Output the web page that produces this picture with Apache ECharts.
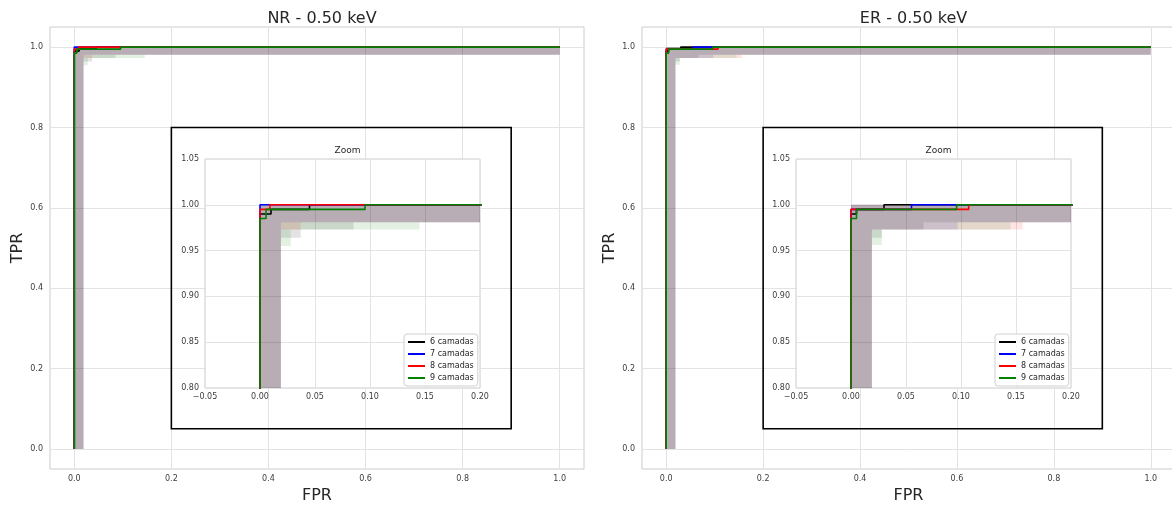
<!DOCTYPE html>
<html>
<head>
<meta charset="utf-8">
<script src="https://cdn.jsdelivr.net/npm/echarts@6/dist/echarts.min.js"></script>
<style>
  html, body { margin: 0; padding: 0; background: #ffffff; }
  #chart { width: 1172px; height: 505px; }
</style>
</head>
<body>
<div id="chart"></div>
<script>
// Mean ROC curves per network depth, given as (FPR, TPR) vertices
const seriesNames = ['6 camadas', '7 camadas', '8 camadas', '9 camadas'];

const nrFpr6 = [0, 0, 0.010, 0.010, 0.045, 0.045, 1];
const nrTpr6 = [0, 0.990, 0.990, 0.995, 0.995, 1, 1];
const nrFpr7 = [0, 0, 1];
const nrTpr7 = [0, 1, 1];
const nrFpr8 = [0, 0, 0.009, 0.009, 1];
const nrTpr8 = [0, 0.995, 0.995, 1, 1];
const nrFpr9 = [0, 0, 0.0055, 0.0055, 0.0955, 0.0955, 1];
const nrTpr9 = [0, 0.985, 0.985, 0.995, 0.995, 1, 1];

const erFpr6 = [0, 0, 0.005, 0.005, 0.030, 0.030, 1];
const erTpr6 = [0, 0.990, 0.990, 0.995, 0.995, 1, 1];
const erFpr7 = [0, 0, 0.055, 0.055, 1];
const erTpr7 = [0, 0.995, 0.995, 1, 1];
const erFpr8 = [0, 0, 0.107, 0.107, 1];
const erTpr8 = [0, 0.995, 0.995, 1, 1];
const erFpr9 = [0, 0, 0.005, 0.005, 0.096, 0.096, 1];
const erTpr9 = [0, 0.985, 0.985, 0.995, 0.995, 1, 1];

// Uncertainty bands: lower TPR bound as a step function over FPR segments
const bandUpper = 1.0;
const nrBandEdges6 = [0, 0.019, 0.037, 0.085, 1];
const nrBandLow6   = [0, 0.964, 0.973, 0.981];
const nrBandEdges7 = [0, 0.019, 1];
const nrBandLow7   = [0, 0.981];
const nrBandEdges8 = [0, 0.019, 0.037, 1];
const nrBandLow8   = [0, 0.973, 0.981];
const nrBandEdges9 = [0, 0.019, 0.028, 0.145, 1];
const nrBandLow9   = [0, 0.955, 0.973, 0.981];

const erBandEdges6 = [0, 0.019, 0.028, 0.066, 1];
const erBandLow6   = [0, 0.964, 0.973, 0.981];
const erBandEdges7 = [0, 0.019, 0.097, 1];
const erBandLow7   = [0, 0.973, 0.981];
const erBandEdges8 = [0, 0.019, 0.156, 1];
const erBandLow8   = [0, 0.973, 0.981];
const erBandEdges9 = [0, 0.019, 0.028, 0.145, 1];
const erBandLow9   = [0, 0.956, 0.973, 0.981];

// Zoom window outline on the main axes: [x0, y0, x1, y1]
const zoomFrame = [0.2, 0.05, 0.9, 0.8];

// Tick values
const mainTicks = [0, 0.2, 0.4, 0.6, 0.8, 1.0];

const panels = [
  {
    title: 'NR - 0.50 keV',
    fpr: [nrFpr6, nrFpr7, nrFpr8, nrFpr9],
    tpr: [nrTpr6, nrTpr7, nrTpr8, nrTpr9],
    edges: [nrBandEdges6, nrBandEdges7, nrBandEdges8, nrBandEdges9],
    low: [nrBandLow6, nrBandLow7, nrBandLow8, nrBandLow9]
  },
  {
    title: 'ER - 0.50 keV',
    fpr: [erFpr6, erFpr7, erFpr8, erFpr9],
    tpr: [erTpr6, erTpr7, erTpr8, erTpr9],
    edges: [erBandEdges6, erBandEdges7, erBandEdges8, erBandEdges9],
    low: [erBandLow6, erBandLow7, erBandLow8, erBandLow9]
  }
];

const FONT = 'DejaVu Sans';
const lineColors = ['#000000', '#0000ff', '#ff0000', '#008000'];
const bandColors = ['rgba(0,0,0,0.11)', 'rgba(0,0,255,0.11)', 'rgba(255,0,0,0.11)', 'rgba(0,128,0,0.11)'];
const gridLineColor = '#e3e3e3';
const spineColor = '#cccccc';
const tickColor = '#3c3c3c';

const mainGrids = [
  { left: 50, top: 27, width: 534, height: 442 },
  { left: 642, top: 27, width: 533, height: 442 }
];
const insetGrids = [
  { left: 205, top: 159, width: 275, height: 229 },
  { left: 796, top: 159, width: 275, height: 229 }
];

const grid = [], xAxis = [], yAxis = [], series = [], title = [], legend = [];

function fmtSigned(v, d) {
  if (Math.abs(v) < 1e-9) v = 0;
  return (v < 0 ? '\u2212' : '') + Math.abs(v).toFixed(d);
}

function bandSeries(p, k, axisIdx, z) {
  const edges = p.edges[k], low = p.low[k];
  return {
    type: 'custom',
    name: 'band ' + seriesNames[k],
    xAxisIndex: axisIdx, yAxisIndex: axisIdx,
    z: z, clip: true, silent: true, animation: false,
    data: [[edges[0], bandUpper]],
    renderItem: function (params, api) {
      const pts = [api.coord([edges[0], bandUpper]), api.coord([edges[edges.length - 1], bandUpper])];
      for (let i = low.length - 1; i >= 0; i--) {
        pts.push(api.coord([edges[i + 1], low[i]]));
        pts.push(api.coord([edges[i], low[i]]));
      }
      return { type: 'polygon', shape: { points: pts }, style: { fill: bandColors[k] } };
    }
  };
}

function lineSeries(p, k, axisIdx, z) {
  return {
    type: 'line',
    name: seriesNames[k],
    xAxisIndex: axisIdx, yAxisIndex: axisIdx,
    z: z, clip: true, silent: true, animation: false,
    showSymbol: false, symbol: 'none',
    color: lineColors[k],
    lineStyle: { color: lineColors[k], width: 1.6 },
    data: p.fpr[k].map((x, i) => [x, p.tpr[k][i]])
  };
}

panels.forEach((p, pi) => {
  const mg = mainGrids[pi], ig = insetGrids[pi];
  const mi = pi;        // main axes index
  const ii = pi + 2;    // inset axes index

  grid[mi] = Object.assign({ show: true, backgroundColor: '#ffffff', borderColor: spineColor, borderWidth: 1, z: 0, outerBoundsMode: 'none', containLabel: false }, mg);
  grid[ii] = Object.assign({ show: true, backgroundColor: '#ffffff', borderColor: spineColor, borderWidth: 1, z: 3, outerBoundsMode: 'none', containLabel: false }, ig);

  xAxis[mi] = {
    type: 'value', gridIndex: mi, min: -0.05, max: 1.05, z: 0,
    name: 'FPR', nameLocation: 'middle', nameGap: 16,
    nameTextStyle: { fontFamily: FONT, fontSize: 16, color: '#262626' },
    axisLine: { show: false }, axisTick: { show: false, customValues: mainTicks },
    axisLabel: { customValues: mainTicks, formatter: v => fmtSigned(v, 1), fontFamily: FONT, fontSize: 8, color: tickColor, margin: 6 },
    splitLine: { show: true, lineStyle: { color: gridLineColor, width: 1 } }
  };
  yAxis[mi] = {
    type: 'value', gridIndex: mi, min: -0.05, max: 1.05, z: 0,
    name: 'TPR', nameLocation: 'middle', nameGap: 24, nameRotate: 90,
    nameTextStyle: { fontFamily: FONT, fontSize: 16, color: '#262626' },
    axisLine: { show: false }, axisTick: { show: false, customValues: mainTicks },
    axisLabel: { customValues: mainTicks, formatter: v => fmtSigned(v, 1), fontFamily: FONT, fontSize: 8, color: tickColor, margin: 7 },
    splitLine: { show: true, lineStyle: { color: gridLineColor, width: 1 } }
  };
  xAxis[ii] = {
    type: 'value', gridIndex: ii, min: -0.05, max: 0.20, interval: 0.05, z: 4,
    axisLine: { show: false }, axisTick: { show: false },
    axisLabel: { formatter: v => fmtSigned(v, 2), fontFamily: FONT, fontSize: 8, color: tickColor, margin: 5, showMinLabel: true, showMaxLabel: true },
    splitLine: { show: true, lineStyle: { color: gridLineColor, width: 1 } }
  };
  yAxis[ii] = {
    type: 'value', gridIndex: ii, min: 0.80, max: 1.05, interval: 0.05, z: 4,
    axisLine: { show: false }, axisTick: { show: false },
    axisLabel: { formatter: v => fmtSigned(v, 2), fontFamily: FONT, fontSize: 8, color: tickColor, margin: 6 },
    splitLine: { show: true, lineStyle: { color: gridLineColor, width: 1 } }
  };

  // main axes: bands, curves, zoom outline
  for (let k = 0; k < 4; k++) series.push(bandSeries(p, k, mi, 1));
  for (let k = 0; k < 4; k++) series.push(lineSeries(p, k, mi, 2));
  series.push({
    type: 'custom', xAxisIndex: mi, yAxisIndex: mi, z: 2, silent: true, animation: false, clip: false,
    data: [zoomFrame],
    renderItem: function (params, api) {
      const a = api.coord([api.value(0), api.value(3)]);
      const b = api.coord([api.value(2), api.value(1)]);
      return { type: 'rect', shape: { x: a[0], y: a[1], width: b[0] - a[0], height: b[1] - a[1] },
               style: { fill: null, stroke: '#000000', lineWidth: 1.6 } };
    }
  });
  // inset axes
  for (let k = 0; k < 4; k++) series.push(bandSeries(p, k, ii, 5));
  for (let k = 0; k < 4; k++) series.push(lineSeries(p, k, ii, 6));

  title.push({
    text: p.title, left: mg.left + mg.width / 2, top: 6, textAlign: 'center',
    textStyle: { fontFamily: FONT, fontSize: 16, fontWeight: 'normal', color: '#262626' }, z: 10
  });
  title.push({
    text: 'Zoom', left: ig.left + ig.width / 2, top: 141, textAlign: 'center',
    textStyle: { fontFamily: FONT, fontSize: 9, fontWeight: 'normal', color: '#262626' }, z: 10
  });

  legend.push({
    data: seriesNames.map((n, k) => ({ name: n, itemStyle: { color: lineColors[k] } })),
    orient: 'vertical', left: ig.left + ig.width - 76, top: ig.top + ig.height - 54,
    icon: 'rect', itemWidth: 17, itemHeight: 2, itemGap: 2,
    padding: [3, 4, 3, 4],
    backgroundColor: 'rgba(255,255,255,0.85)', borderColor: '#d0d0d0', borderWidth: 1, borderRadius: 3,
    textStyle: { fontFamily: FONT, fontSize: 8, color: '#262626', lineHeight: 10 },
    selectedMode: false, z: 10
  });
});

const chart = echarts.init(document.getElementById('chart'), null, { renderer: 'canvas' });
chart.setOption({
  animation: false,
  backgroundColor: '#ffffff',
  title: title,
  legend: legend,
  grid: grid,
  xAxis: xAxis,
  yAxis: yAxis,
  series: series
});
</script>
</body>
</html>
